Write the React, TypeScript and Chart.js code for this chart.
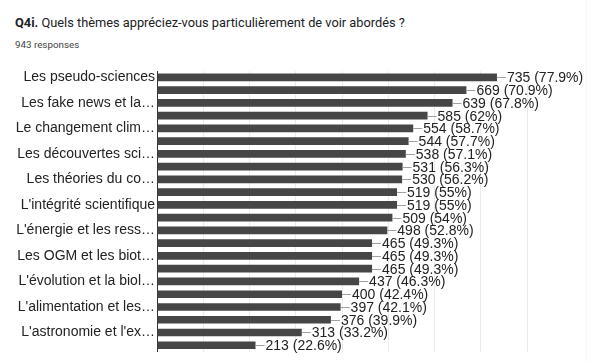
import React, { useEffect, useRef } from "react";
import { Chart, registerables } from "chart.js";

Chart.register(...registerables);

// Categories (only every other label is legible in the reference; others are unknown)
const categories: string[] = [
  "Les pseudo-sciences",
  "",
  "Les fake news et la…",
  "",
  "Le changement clim…",
  "",
  "Les découvertes sci…",
  "",
  "Les théories du co…",
  "",
  "L'intégrité scientifique",
  "",
  "L'énergie et les ress…",
  "",
  "Les OGM et les biot…",
  "",
  "L'évolution et la biol…",
  "",
  "L'alimentation et les…",
  "",
  "L'astronomie et l'ex…",
  "",
];

const values: number[] = [
  735, 669, 639, 585, 554, 544, 538, 531, 530, 519, 519, 509, 498, 465, 465, 465,
  437, 400, 397, 376, 313, 213,
];

const percents: string[] = [
  "77.9", "70.9", "67.8", "62", "58.7", "57.7", "57.1", "56.3", "56.2", "55", "55",
  "54", "52.8", "49.3", "49.3", "49.3", "46.3", "42.4", "42.1", "39.9", "33.2", "22.6",
];

const xTicksMax = 800;
const xTickStep = 100;

const FONT = '"Liberation Sans", Arial, sans-serif';

const valueLabels = {
  id: "valueLabels",
  afterDatasetsDraw(chart: any) {
    const ctx = chart.ctx;
    const meta = chart.getDatasetMeta(0);
    ctx.save();
    ctx.font = `14px ${FONT}`;
    ctx.textAlign = "left";
    ctx.textBaseline = "alphabetic";
    meta.data.forEach((bar: any, i: number) => {
      const x = bar.x;
      const y = bar.y;
      const ly = Math.round(y) + 0.5;
      ctx.strokeStyle = "#a0a0a0";
      ctx.lineWidth = 1;
      ctx.beginPath();
      ctx.moveTo(x, ly);
      ctx.lineTo(x + 9, ly);
      ctx.stroke();
      ctx.fillStyle = "#222222";
      ctx.fillText(`${values[i]} (${percents[i]}%)`, x + 10, y + 5);
    });
    ctx.restore();
  },
};

function BarChart() {
  const ref = useRef<HTMLCanvasElement | null>(null);
  useEffect(() => {
    if (!ref.current) return;
    const chart = new Chart(ref.current, {
      type: "bar",
      data: {
        labels: categories,
        datasets: [
          {
            data: values,
            backgroundColor: "#464646",
            barPercentage: 0.6,
            categoryPercentage: 1,
          },
        ],
      },
      options: {
        indexAxis: "y",
        responsive: false,
        animation: false,
        layout: { padding: { top: 71, bottom: 1, left: 0, right: 78 } },
        plugins: {
          legend: { display: false },
          tooltip: { enabled: false },
        },
        scales: {
          x: {
            min: 0,
            max: xTicksMax,
            ticks: { display: false, stepSize: xTickStep },
            grid: { color: "#ebebeb", drawTicks: false },
            border: { display: false },
            afterFit: (s: any) => {
              s.height = 0;
            },
          },
          y: {
            grid: { display: false, drawTicks: false },
            border: { color: "#333333", width: 1 },
            ticks: {
              autoSkip: false,
              padding: 2,
              color: "#222222",
              font: { family: FONT, size: 14 },
            },
            afterFit: (s: any) => {
              s.width = 157;
            },
          },
        },
      } as any,
      plugins: [valueLabels],
    });
    return () => chart.destroy();
  }, []);
  return (
    <canvas
      ref={ref}
      width={605}
      height={362}
      style={{ position: "absolute", left: 0, top: 0, display: "block" }}
    />
  );
}

export default function App() {
  return (
    <div
      style={{
        position: "fixed",
        left: 0,
        top: 0,
        width: 605,
        height: 362,
        background: "#ffffff",
        overflow: "hidden",
      }}
    >
      <div
        style={{
          position: "absolute",
          left: 15,
          top: 16,
          fontFamily: "Roboto, sans-serif",
          fontSize: 12.8,
          lineHeight: "13px",
          color: "#202124",
          whiteSpace: "nowrap",
        }}
      >
        <b>Q4i.</b> Quels thèmes appréciez-vous particulièrement de voir abordés ?
      </div>
      <div
        style={{
          position: "absolute",
          left: 15,
          top: 39,
          fontFamily: "Roboto, sans-serif",
          fontSize: 9.8,
          lineHeight: "11px",
          color: "#444444",
          whiteSpace: "nowrap",
        }}
      >
        943 responses
      </div>
      <BarChart />
      <div
        style={{
          position: "absolute",
          left: 586,
          top: 0,
          width: 1,
          height: 362,
          background: "#f6f6f6",
        }}
      />
    </div>
  );
}
